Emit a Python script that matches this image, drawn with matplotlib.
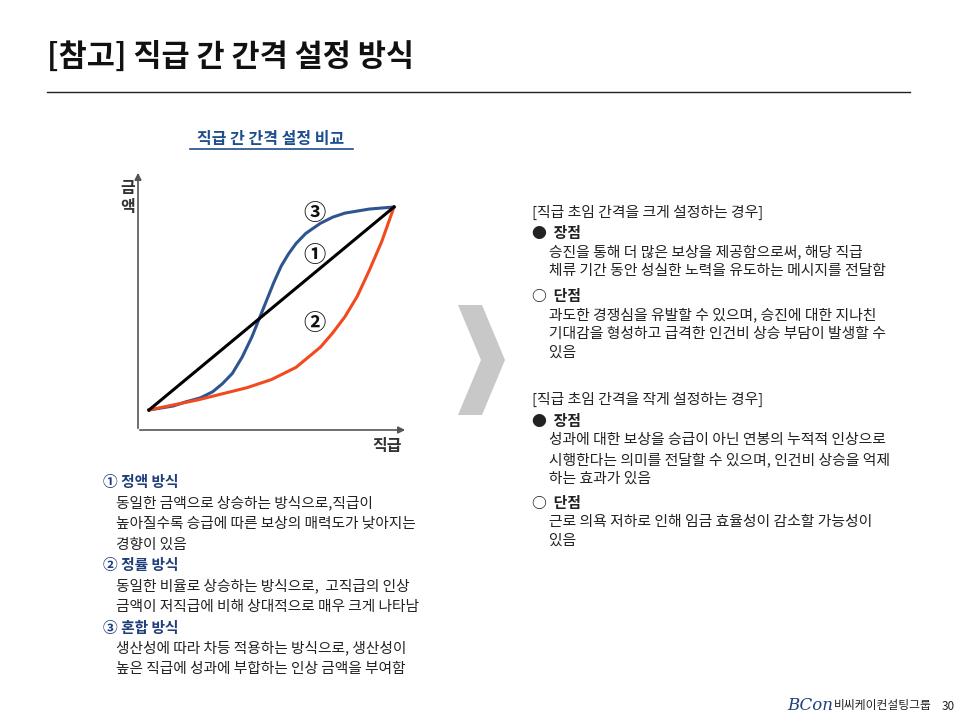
import matplotlib
matplotlib.use("Agg")
import matplotlib.pyplot as plt
from matplotlib.patches import Polygon

plt.rcParams['font.family'] = ['Noto Sans CJK KR', 'DejaVu Sans']

# data (normalized grade vs amount)
linear_x = [0, 1]
linear_y = [0, 1]
rate_x = [0, .1, .2, .3, .4, .5, .6, .65, .7, .75, .8, .85, .9, .95, 1]
rate_y = [0, .025, .05, .08, .11, .15, .21, .26, .31, .38, .46, .56, .69, .83, 1]
mix_x = [0, .05, .1, .15, .21, .26, .3, .34, .38, .42, .45, .48, .51, .54, .57, .6, .64, .7, .75, .8, .85, .9, .95, 1]
mix_y = [0, .01, .02, .04, .06, .09, .13, .18, .26, .36, .45, .54, .63, .71, .77, .82, .87, .92, .95, .97, .98, .99, .995, 1]

NAVY = '#1f3f7a'
fig = plt.figure(figsize=(9.6, 7.2), dpi=100)
ax = fig.add_axes([0, 0, 1, 1])
ax.set_xlim(0, 960); ax.set_ylim(720, 0); ax.axis('off')

ax.text(47, 57, '[참고] 직급 간 간격 설정 방식', fontsize=22, fontweight='bold', va='center', color='#111')
ax.plot([47, 910], [92, 92], color='#222', lw=1)
ax.text(271, 139, '직급 간 간격 설정 비교', fontsize=11.5, fontweight='bold', color='#1f4e8c', ha='center', va='center')
ax.plot([190, 353], [149, 149], color='#1f4e8c', lw=1.2)

# axes arrows
ax.annotate('', xy=(138, 170), xytext=(138, 431), arrowprops=dict(arrowstyle='-|>', color='#555', lw=1.2, mutation_scale=10))
ax.annotate('', xy=(408, 430), xytext=(137, 430), arrowprops=dict(arrowstyle='-|>', color='#555', lw=1.2, mutation_scale=10))
ax.text(128, 188, '금', fontsize=11.5, ha='center', va='center', color='#333', fontweight='bold')
ax.text(128, 207, '액', fontsize=11.5, ha='center', va='center', color='#333', fontweight='bold')
ax.text(387, 446, '직급', fontsize=11.5, ha='center', va='center', color='#333', fontweight='bold')

cax = fig.add_axes([149/960, (720-410)/720, 245/960, 203/720])
cax.set_xlim(0, 1); cax.set_ylim(0, 1); cax.axis('off')
cax.plot(mix_x, mix_y, color='#2e5590', lw=2.2, clip_on=False)
cax.plot(rate_x, rate_y, color='#f04a1e', lw=2.2, clip_on=False)
cax.plot(linear_x, linear_y, color='black', lw=2.2, clip_on=False)
for lbl, x, y in [('③', 314, 214), ('①', 314, 255), ('②', 314, 324)]:
    ax.text(x, y, lbl, fontsize=16, ha='center', va='center', color='#111', fontweight='bold')

# chevron
ax.add_patch(Polygon([(458, 305), (482, 305), (505, 360), (482, 415), (458, 415), (481, 360)],
                     closed=True, color='#c8c8c8', lw=0))

left = [('① 정액 방식', True), ('    동일한 금액으로 상승하는 방식으로,직급이', False),
        ('    높아질수록 승급에 따른 보상의 매력도가 낮아지는', False), ('    경향이 있음', False),
        ('② 정률 방식', True), ('    동일한 비율로 상승하는 방식으로,  고직급의 인상', False),
        ('    금액이 저직급에 비해 상대적으로 매우 크게 나타남', False),
        ('③ 혼합 방식', True), ('    생산성에 따라 차등 적용하는 방식으로, 생산성이', False),
        ('    높은 직급에 성과에 부합하는 인상 금액을 부여함', False)]
for i, (t, b) in enumerate(left):
    ax.text(103, 482 + i * 20.8, t, fontsize=10.6, va='center',
            color=NAVY if b else '#222', fontweight='bold' if b else 'medium')

right = [(212, '[직급 초임 간격을 크게 설정하는 경우]', False),
         (233, '●  장점', True), (252, '     승진을 통해 더 많은 보상을 제공함으로써, 해당 직급', False),
         (271, '     체류 기간 동안 성실한 노력을 유도하는 메시지를 전달함', False),
         (296, '○  단점', True), (315, '     과도한 경쟁심을 유발할 수 있으며, 승진에 대한 지나친', False),
         (334, '     기대감을 형성하고 급격한 인건비 상승 부담이 발생할 수', False),
         (353, '     있음', False),
         (399, '[직급 초임 간격을 작게 설정하는 경우]', False),
         (421, '●  장점', True), (440, '     성과에 대한 보상을 승급이 아닌 연봉의 누적적 인상으로', False),
         (460, '     시행한다는 의미를 전달할 수 있으며, 인건비 상승을 억제', False),
         (479, '     하는 효과가 있음', False),
         (503, '○  단점', True), (522, '     근로 의욕 저하로 인해 임금 효율성이 감소할 가능성이', False),
         (541, '     있음', False)]
for y, t, b in right:
    ax.text(532, y, t, fontsize=10.7, va='center', color='#222', fontweight='bold' if b else 'medium')

ax.text(810, 706, 'BCon', fontsize=12, style='italic', family='DejaVu Serif', color=NAVY, ha='center', va='center')
ax.text(834, 706, '비씨케이컨설팅그룹', fontsize=8.5, va='center', color='#222')
ax.text(948, 706, '30', fontsize=8.5, va='center', ha='center', color='#222')

fig.savefig('out.png', dpi=100)
